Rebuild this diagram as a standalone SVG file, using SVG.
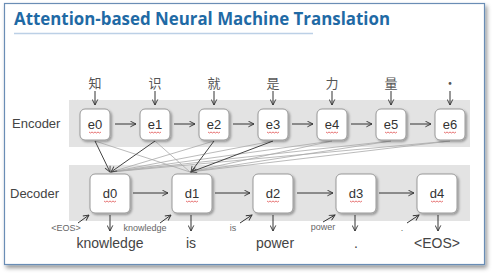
<svg xmlns="http://www.w3.org/2000/svg" width="494" height="275" viewBox="0 0 494 275">
<defs>
<filter id="sh" x="-30%" y="-30%" width="160%" height="160%"><feDropShadow dx="1.5" dy="1.5" stdDeviation="1.2" flood-color="#000" flood-opacity="0.35"/></filter>
<filter id="fsh" x="-5%" y="-5%" width="110%" height="110%"><feDropShadow dx="2" dy="3" stdDeviation="2" flood-color="#000" flood-opacity="0.4"/></filter>
<marker id="ar" viewBox="0 0 10 10" refX="9" refY="5" markerWidth="7" markerHeight="7" orient="auto" markerUnits="userSpaceOnUse"><path d="M1,1 L9,5 L1,9" fill="none" stroke="#333" stroke-width="1.3"/></marker>
<marker id="ad" viewBox="0 0 10 10" refX="9" refY="5" markerWidth="7" markerHeight="7" orient="auto" markerUnits="userSpaceOnUse"><path d="M1,1 L9,5 L1,9" fill="none" stroke="#444" stroke-width="1.3"/></marker>
</defs>
<style>
.node rect{fill:#fff;stroke:#999;stroke-width:1;filter:url(#sh)}
.lbl{font-family:"Liberation Sans",Arial,sans-serif;font-size:13px;fill:#333;text-anchor:middle}
.sq{fill:none;stroke:#e05050;stroke-width:0.8}
.ar{stroke:#333;stroke-width:1;fill:none;marker-end:url(#ar)}
.att{stroke:#aaa;stroke-width:0.8;fill:none}
.attd{stroke:#444;stroke-width:1;fill:none;marker-end:url(#ad)}
.zh{font-family:"Noto Sans CJK SC",sans-serif;font-size:13px;fill:#555;text-anchor:middle}
.side{font-family:"Liberation Sans",Arial,sans-serif;font-size:13px;fill:#444}
.small{font-family:"Liberation Sans",Arial,sans-serif;font-size:9px;fill:#666;text-anchor:middle}
.out{font-family:"Liberation Sans",Arial,sans-serif;font-size:14px;fill:#444;text-anchor:middle}
</style>
<rect x="0" y="0" width="494" height="275" fill="#fff"/>
<rect x="4.5" y="3.5" width="480" height="261" fill="#fff" stroke="#6a8db5" stroke-width="1.2" filter="url(#fsh)"/>
<text x="14" y="25" font-family="'Open Sans','Noto Sans',sans-serif" font-weight="bold" font-size="17" fill="#1f6aa5" textLength="376" lengthAdjust="spacingAndGlyphs">Attention-based Neural Machine Translation</text>
<line x1="14" y1="33.5" x2="313" y2="33.5" stroke="#bcd0e6" stroke-width="1.5"/>
<rect x="69" y="100" width="401" height="47" fill="#e3e3e3"/>
<rect x="69" y="165" width="401" height="56" fill="#e3e3e3"/>
<text class="side" x="12" y="128">Encoder</text>
<text class="side" x="10" y="198">Decoder</text>
<g id="connectors">
<line class="att" x1="95" y1="141" x2="190" y2="172"/>
<line class="att" x1="155" y1="141" x2="190" y2="172"/>
<line class="att" x1="214" y1="141" x2="111" y2="172"/>
<line class="att" x1="273" y1="141" x2="111" y2="172"/>
<line class="att" x1="332" y1="141" x2="111" y2="172"/>
<line class="att" x1="391" y1="141" x2="111" y2="172"/>
<line class="att" x1="450" y1="141" x2="111" y2="172"/>
<line class="att" x1="332" y1="141" x2="190" y2="172"/>
<line class="att" x1="391" y1="141" x2="190" y2="172"/>
<line class="att" x1="450" y1="141" x2="190" y2="172"/>
<line class="attd" x1="95" y1="141" x2="110" y2="172"/>
<line class="attd" x1="155" y1="141" x2="111" y2="172"/>
<line class="attd" x1="214" y1="141" x2="191" y2="172"/>
<line class="attd" x1="273" y1="141" x2="191" y2="172"/>
<line class="ar" x1="95" y1="91" x2="95" y2="105"/>
<line class="ar" x1="155" y1="91" x2="155" y2="105"/>
<line class="ar" x1="214" y1="91" x2="214" y2="105"/>
<line class="ar" x1="273" y1="91" x2="273" y2="105"/>
<line class="ar" x1="332" y1="91" x2="332" y2="105"/>
<line class="ar" x1="391" y1="91" x2="391" y2="105"/>
<line class="ar" x1="450" y1="91" x2="450" y2="105"/>
<line class="ar" x1="115" y1="124" x2="136" y2="124"/>
<line class="ar" x1="174" y1="124" x2="195" y2="124"/>
<line class="ar" x1="233" y1="124" x2="254" y2="124"/>
<line class="ar" x1="292" y1="124" x2="313" y2="124"/>
<line class="ar" x1="351" y1="124" x2="372" y2="124"/>
<line class="ar" x1="410" y1="124" x2="431" y2="124"/>
<line class="ar" x1="133" y1="193" x2="168" y2="193"/>
<line class="ar" x1="215" y1="193" x2="250" y2="193"/>
<line class="ar" x1="297" y1="193" x2="333" y2="193"/>
<line class="ar" x1="379" y1="193" x2="414" y2="193"/>
<line class="ar" x1="78" y1="223" x2="89" y2="215"/>
<line class="ar" x1="160" y1="223" x2="171" y2="215"/>
<line class="ar" x1="240" y1="223" x2="252" y2="215"/>
<line class="ar" x1="323" y1="222" x2="335" y2="215"/>
<line class="ar" x1="407" y1="223" x2="419" y2="215"/>
<line class="ar" x1="110" y1="215" x2="110" y2="231"/>
<line class="ar" x1="191" y1="215" x2="191" y2="231"/>
<line class="ar" x1="273" y1="215" x2="273" y2="231"/>
<line class="ar" x1="355" y1="215" x2="355" y2="231"/>
<line class="ar" x1="438" y1="215" x2="438" y2="231"/>
</g>
<text class="zh" x="95" y="88">知</text>
<text class="zh" x="155" y="88">识</text>
<text class="zh" x="214" y="88">就</text>
<text class="zh" x="273" y="88">是</text>
<text class="zh" x="332" y="88">力</text>
<text class="zh" x="391" y="88">量</text>
<text class="zh" x="450" y="88">·</text>
<g id="e0" class="node"><rect x="80" y="109" width="30" height="31" rx="5"/><text class="lbl" x="95" y="129">e0</text><path class="sq" d="M89,132 l1.5,1 l1.5,-1 l1.5,1 l1.5,-1 l1.5,1 l1.5,-1 l1.5,1 l1.5,-1"/></g>
<g id="e1" class="node"><rect x="140" y="109" width="30" height="31" rx="5"/><text class="lbl" x="155" y="129">e1</text><path class="sq" d="M149,132 l1.5,1 l1.5,-1 l1.5,1 l1.5,-1 l1.5,1 l1.5,-1 l1.5,1 l1.5,-1"/></g>
<g id="e2" class="node"><rect x="199" y="109" width="30" height="31" rx="5"/><text class="lbl" x="214" y="129">e2</text><path class="sq" d="M208,132 l1.5,1 l1.5,-1 l1.5,1 l1.5,-1 l1.5,1 l1.5,-1 l1.5,1 l1.5,-1"/></g>
<g id="e3" class="node"><rect x="258" y="109" width="30" height="31" rx="5"/><text class="lbl" x="273" y="129">e3</text><path class="sq" d="M267,132 l1.5,1 l1.5,-1 l1.5,1 l1.5,-1 l1.5,1 l1.5,-1 l1.5,1 l1.5,-1"/></g>
<g id="e4" class="node"><rect x="317" y="109" width="30" height="31" rx="5"/><text class="lbl" x="332" y="129">e4</text><path class="sq" d="M326,132 l1.5,1 l1.5,-1 l1.5,1 l1.5,-1 l1.5,1 l1.5,-1 l1.5,1 l1.5,-1"/></g>
<g id="e5" class="node"><rect x="376" y="109" width="30" height="31" rx="5"/><text class="lbl" x="391" y="129">e5</text><path class="sq" d="M385,132 l1.5,1 l1.5,-1 l1.5,1 l1.5,-1 l1.5,1 l1.5,-1 l1.5,1 l1.5,-1"/></g>
<g id="e6" class="node"><rect x="435" y="109" width="30" height="31" rx="5"/><text class="lbl" x="450" y="129">e6</text><path class="sq" d="M444,132 l1.5,1 l1.5,-1 l1.5,1 l1.5,-1 l1.5,1 l1.5,-1 l1.5,1 l1.5,-1"/></g>
<g id="d0" class="node"><rect x="90" y="174" width="40" height="39" rx="5"/><text class="lbl" x="110" y="198">d0</text><path class="sq" d="M104,201 l1.5,1 l1.5,-1 l1.5,1 l1.5,-1 l1.5,1 l1.5,-1 l1.5,1 l1.5,-1"/></g>
<g id="d1" class="node"><rect x="172" y="174" width="40" height="39" rx="5"/><text class="lbl" x="192" y="198">d1</text><path class="sq" d="M186,201 l1.5,1 l1.5,-1 l1.5,1 l1.5,-1 l1.5,1 l1.5,-1 l1.5,1 l1.5,-1"/></g>
<g id="d2" class="node"><rect x="253" y="174" width="40" height="39" rx="5"/><text class="lbl" x="273" y="198">d2</text><path class="sq" d="M267,201 l1.5,1 l1.5,-1 l1.5,1 l1.5,-1 l1.5,1 l1.5,-1 l1.5,1 l1.5,-1"/></g>
<g id="d3" class="node"><rect x="336" y="174" width="40" height="39" rx="5"/><text class="lbl" x="356" y="198">d3</text><path class="sq" d="M350,201 l1.5,1 l1.5,-1 l1.5,1 l1.5,-1 l1.5,1 l1.5,-1 l1.5,1 l1.5,-1"/></g>
<g id="d4" class="node"><rect x="417" y="174" width="40" height="39" rx="5"/><text class="lbl" x="437" y="198">d4</text><path class="sq" d="M431,201 l1.5,1 l1.5,-1 l1.5,1 l1.5,-1 l1.5,1 l1.5,-1 l1.5,1 l1.5,-1"/></g>
<text class="small" x="66" y="231">&lt;EOS&gt;</text>
<text class="small" x="145" y="231">knowledge</text>
<text class="small" x="233" y="231">is</text>
<text class="small" x="323" y="230">power</text>
<text class="small" x="402" y="231">.</text>
<text class="out" x="110" y="248">knowledge</text>
<text class="out" x="191" y="248">is</text>
<text class="out" x="275" y="248">power</text>
<text class="out" x="356" y="248">.</text>
<text class="out" x="437" y="248">&lt;EOS&gt;</text>
</svg>
